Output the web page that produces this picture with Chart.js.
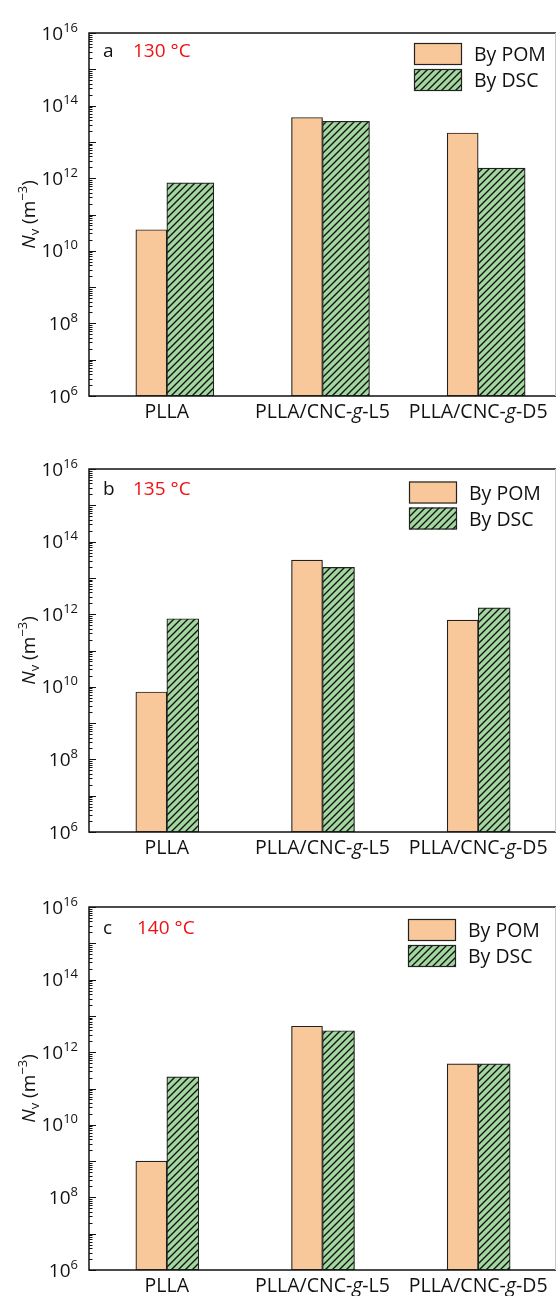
<!DOCTYPE html>
<html>
<head>
<meta charset="utf-8">
<script src="https://cdn.jsdelivr.net/npm/chart.js@4.4.1/dist/chart.umd.min.js"></script>
<style>
  html, body { margin: 0; padding: 0; background: #fff; overflow: hidden; }
  .panel { position: absolute; left: 0; width: 557px; height: 432px; }
</style>
</head>
<body>
<div class="panel" style="top:0px"><canvas id="chartA" width="557" height="432"></canvas></div>
<div class="panel" style="top:436px"><canvas id="chartB" width="557" height="432"></canvas></div>
<div class="panel" style="top:874px"><canvas id="chartC" width="557" height="432"></canvas></div>
<script>
// data
const categories = ["PLLA", "PLLA/CNC-g-L5", "PLLA/CNC-g-D5"];
const seriesNames = ["By POM", "By DSC"];

const pom130 = [3.8e10, 4.7e13, 1.76e13];
const dsc130 = [7.4e11, 3.7e13, 1.9e12];

const pom135 = [7.2e9, 3.1e13, 6.9e11];
const dsc135 = [7.5e11, 1.95e13, 1.5e12];

const pom140 = [1.0e9, 5.2e12, 4.8e11];
const dsc140 = [2.1e11, 3.9e12, 4.8e11];

const yTickPowers = [6, 8, 10, 12, 14, 16];

const FONT = '"Open Sans", "Noto Sans", sans-serif';
const ORANGE = "#F9C89A";
const GREEN = "#A3D7A0";
const EDGE = "#222";

function hatch(bg) {
    const s = 7;
    const c = document.createElement("canvas");
    c.width = s; c.height = s;
    const g = c.getContext("2d");
    g.fillStyle = bg;
    g.fillRect(0, 0, s, s);
    g.strokeStyle = "#111";
    g.lineWidth = 1.35;
    g.beginPath();
    g.moveTo(0, s); g.lineTo(s, 0);
    g.moveTo(-1, 1); g.lineTo(1, -1);
    g.moveTo(s - 1, s + 1); g.lineTo(s + 1, s - 1);
    g.stroke();
    return g.createPattern(c, "repeat");
}

const greenHatch = hatch(GREEN);

// draws a run of text pieces [text, font, dy] starting at x
function drawRuns(ctx, runs, x, y) {
    runs.forEach(r => {
        ctx.font = r[1];
        ctx.fillText(r[0], x, y + (r[2] || 0));
        x += ctx.measureText(r[0]).width;
    });
}

function runsWidth(ctx, runs) {
    let w = 0;
    runs.forEach(r => { ctx.font = r[1]; w += ctx.measureText(r[0]).width; });
    return w;
}

const decorPlugin = {
    id: "decor",
    afterDatasetsDraw(chart, args, opts) {
        const { ctx, chartArea: a, scales } = chart;
        const ys = scales.y, xs = scales.x;
        ctx.save();

        // frame
        ctx.strokeStyle = "#111";
        ctx.lineWidth = 1.5;
        ctx.beginPath();
        ctx.moveTo(a.right, a.top);
        ctx.lineTo(a.left, a.top);
        ctx.lineTo(a.left, a.bottom);
        ctx.lineTo(a.right, a.bottom);
        ctx.stroke();
        ctx.strokeStyle = "#c8c8c8";
        ctx.lineWidth = 1;
        ctx.beginPath();
        ctx.moveTo(a.right - 0.5, a.top);
        ctx.lineTo(a.right - 0.5, a.bottom);
        ctx.stroke();

        // inward log ticks on the left axis
        ctx.strokeStyle = "#111";
        ctx.lineWidth = 1;
        const pMin = Math.round(Math.log10(ys.min));
        const pMax = Math.round(Math.log10(ys.max));
        ctx.beginPath();
        for (let p = pMin; p <= pMax; p++) {
            for (let m = 1; m < 10; m++) {
                if (p === pMax && m > 1) break;
                const py = Math.round(ys.getPixelForValue(m * Math.pow(10, p))) + 0.5;
                const len = m === 1 ? 7 : 3.5;
                ctx.moveTo(a.left, py);
                ctx.lineTo(a.left + len, py);
            }
        }
        ctx.stroke();

        // y tick labels 10^n
        ctx.fillStyle = "#111";
        ctx.textBaseline = "alphabetic";
        ctx.textAlign = "left";
        yTickPowers.forEach(p => {
            const py = ys.getPixelForValue(Math.pow(10, p));
            const runs = [["10", "19px " + FONT, 0], [String(p), "13px " + FONT, -8]];
            const w = runsWidth(ctx, runs);
            drawRuns(ctx, runs, 78 - w, py + 6.5);
        });

        // y axis title
        ctx.save();
        ctx.translate(35, (a.top + a.bottom) / 2);
        ctx.rotate(-Math.PI / 2);
        const title = [
            ["N", "italic 19px " + FONT, 0],
            ["v", "13px " + FONT, 4],
            [" (m", "19px " + FONT, 0],
            ["\u22123", "13px " + FONT, -8],
            [")", "19px " + FONT, 0]
        ];
        drawRuns(ctx, title, -runsWidth(ctx, title) / 2, 0);
        ctx.restore();

        // x category labels, with italic g
        categories.forEach((c, i) => {
            const px = xs.getPixelForValue(i);
            const parts = c.split("-g-");
            let runs;
            if (parts.length === 2) {
                runs = [[parts[0] + "-", "19.5px " + FONT], ["g", "italic 19.5px " + FONT], ["-" + parts[1], "19.5px " + FONT]];
            } else {
                runs = [[c, "19.5px " + FONT]];
            }
            drawRuns(ctx, runs, px - runsWidth(ctx, runs) / 2, a.bottom + 22);
        });

        // panel letter and temperature
        ctx.fillStyle = "#111";
        ctx.font = "19px " + FONT;
        ctx.fillText(opts.letter, 103, a.top + opts.labelDy);
        ctx.fillStyle = "#f01010";
        ctx.fillText(opts.temp, opts.tempX, a.top + opts.labelDy);

        // legend
        const fills = chart.data.datasets.map(d => d.backgroundColor);
        chart.data.datasets.forEach((d, i) => {
            const bx = opts.legendX, by = a.top + opts.legendDy + i * 26;
            ctx.fillStyle = fills[i];
            ctx.fillRect(bx, by, 48, 22);
            ctx.strokeStyle = EDGE;
            ctx.lineWidth = 1.2;
            ctx.strokeRect(bx + 0.5, by + 0.5, 47, 21);
            ctx.fillStyle = "#111";
            ctx.font = "19.5px " + FONT;
            ctx.fillText(d.label, bx + 60, by + 18);
        });

        ctx.restore();
    }
};

function makeChart(id, pom, dsc, cfg) {
    return new Chart(document.getElementById(id), {
        type: "bar",
        data: {
            labels: categories,
            datasets: [
                {
                    label: seriesNames[0],
                    data: pom,
                    backgroundColor: ORANGE,
                    borderColor: EDGE,
                    borderWidth: 1.2,
                    borderSkipped: false,
                    barThickness: cfg.pomWidth
                },
                {
                    label: seriesNames[1],
                    data: dsc,
                    backgroundColor: greenHatch,
                    borderColor: EDGE,
                    borderWidth: 1.2,
                    borderSkipped: false,
                    barThickness: cfg.dscWidth
                }
            ]
        },
        options: {
            responsive: false,
            animation: false,
            layout: { padding: { top: 33, right: 1, left: 0, bottom: 0 } },
            scales: {
                x: {
                    type: "category",
                    grid: { display: false },
                    border: { display: false },
                    ticks: { display: false },
                    afterFit(scale) { scale.height = 36; }
                },
                y: {
                    type: "logarithmic",
                    min: 1e6,
                    max: 1e16,
                    grid: { display: false },
                    border: { display: false },
                    ticks: { display: false },
                    afterFit(scale) { scale.width = 89; }
                }
            },
            plugins: {
                legend: { display: false },
                tooltip: { enabled: false },
                decor: cfg
            }
        },
        plugins: [decorPlugin]
    });
}

makeChart("chartA", pom130, dsc130, {
    letter: "a", temp: "130 \u00B0C", tempX: 133, labelDy: 23.5,
    legendX: 414, legendDy: 10, pomWidth: 31, dscWidth: 47
});
makeChart("chartB", pom135, dsc135, {
    letter: "b", temp: "135 \u00B0C", tempX: 133, labelDy: 26,
    legendX: 409, legendDy: 12.5, pomWidth: 31, dscWidth: 32
});
makeChart("chartC", pom140, dsc140, {
    letter: "c", temp: "140 \u00B0C", tempX: 137, labelDy: 27,
    legendX: 408, legendDy: 12, pomWidth: 31, dscWidth: 32
});
</script>
</body>
</html>
